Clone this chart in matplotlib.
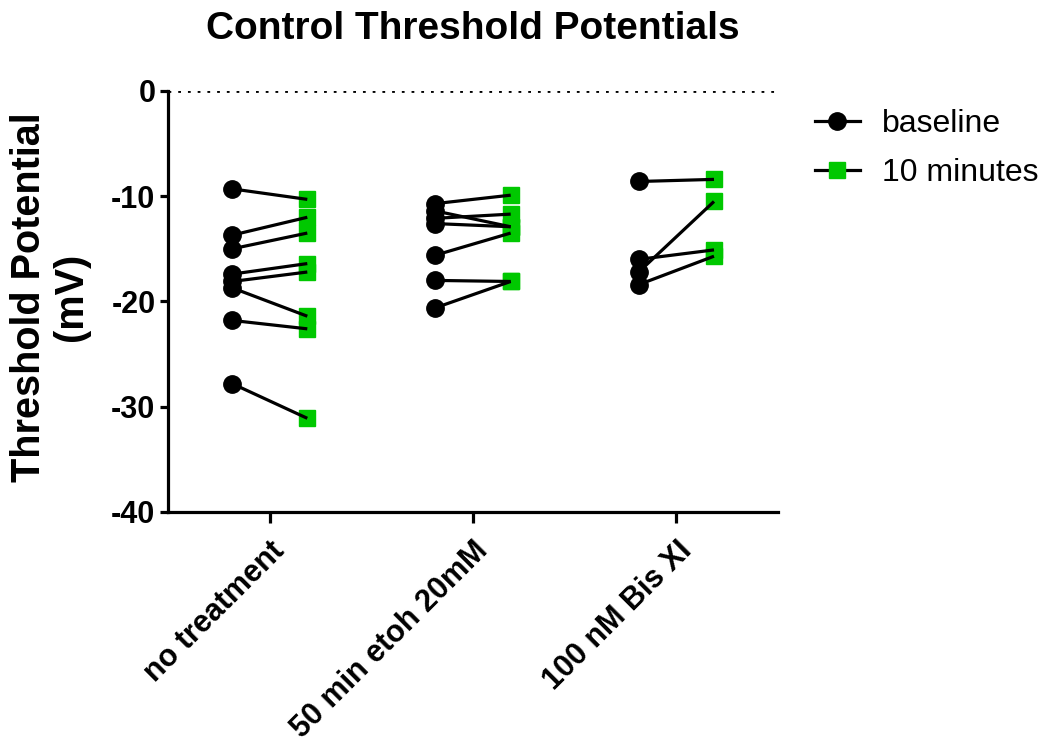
import matplotlib
matplotlib.use("Agg")
import matplotlib.pyplot as plt
from matplotlib.lines import Line2D

plt.rcParams["font.family"] = ["Liberation Sans", "DejaVu Sans"]

# values (mV)
groups = ["no treatment", "50 min etoh 20mM", "100 nM Bis XI"]
baseline = [
    [-9.3, -13.7, -15.0, -17.4, -18.1, -18.7, -21.8, -27.8],
    [-10.7, -11.4, -12.1, -12.6, -15.6, -18.0, -20.6],
    [-8.6, -16.0, -17.2, -18.4],
]
ten_min = [
    [-10.3, -12.0, -13.5, -16.4, -17.2, -21.4, -22.6, -31.1],
    [-9.9, -12.9, -11.7, -12.9, -13.5, -18.1, -18.1],
    [-8.4, -15.1, -10.5, -15.7],
]
series_labels = ["baseline", "10 minutes"]
y_ticks = [0, -10, -20, -30, -40]

green = "#00c800"
off = 0.185

fig = plt.figure(figsize=(10.5, 7.42), dpi=100)
ax = fig.add_axes([0.16, 0.31, 0.581, 0.5674])

for i, (b, t) in enumerate(zip(baseline, ten_min)):
    x0, x1 = i - off, i + off
    for yb, yt in zip(b, t):
        ax.plot([x0, x1], [yb, yt], color="black", lw=2.3, zorder=3, solid_capstyle="butt")
    ax.plot([x1] * len(t), t, ls="none", marker="s", ms=11.5, color=green, mec=green, zorder=2)
    ax.plot([x0] * len(b), b, ls="none", marker="o", ms=12.5, color="black", zorder=4)

ax.axhline(0, color="black", ls=(0, (1, 2.5)), lw=2, zorder=1)

ax.set_xlim(-0.5, 2.5)
ax.set_ylim(-40, 0)
ax.set_yticks(y_ticks)
ax.set_yticklabels([str(v) for v in y_ticks], fontweight="bold", fontsize=22)
ax.set_xticks(range(len(groups)))
ax.set_xticklabels(groups, rotation=45, ha="right", va="top", rotation_mode="anchor",
                   fontweight="bold", fontsize=22)

for s in ["top", "right"]:
    ax.spines[s].set_visible(False)
for s in ["left", "bottom"]:
    ax.spines[s].set_linewidth(2.3)
ax.tick_params(axis="y", length=6, width=2.3, pad=3)
ax.tick_params(axis="x", length=8, width=2.3, pad=9)

fig.text(473 / 1050, 1 - 29 / 742, "Control Threshold Potentials", ha="center", va="center",
         fontsize=28, fontweight="bold")
fig.text(50 / 1050, 1 - 297 / 742, "Threshold Potential\n(mV)", ha="center", va="center",
         rotation=90, fontsize=28.5, fontweight="bold", linespacing=1.1, multialignment="center")

handles = [
    Line2D([], [], color="black", lw=2.3, marker="o", ms=12.5),
    Line2D([], [], color="black", lw=2.3, marker="s", ms=11.5, mfc=green, mec=green),
]
fig.legend(handles, series_labels, loc="upper left", bbox_to_anchor=(815 / 1050, 1 - 109 / 742),
           frameon=False, fontsize=23, handlelength=1.4, handletextpad=0.7, labelspacing=0.6,
           borderpad=0, borderaxespad=0)

fig.savefig("out.png", dpi=100)
